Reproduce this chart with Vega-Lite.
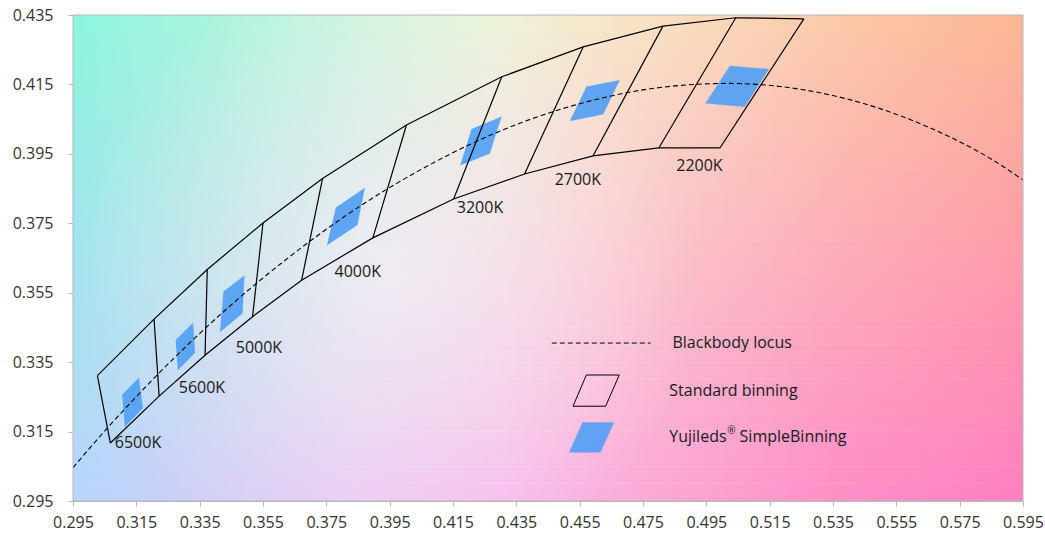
{
  "$schema": "https://vega.github.io/schema/vega-lite/v6.json",
  "width": 950,
  "height": 486,
  "autosize": {"type": "none"},
  "padding": {"left": 73, "top": 15, "right": 22, "bottom": 39},
  "background": "white",
  "datasets": {
    "frame": [{"x": 0.295, "x2": 0.595, "y": 0.295, "y2": 0.435}],
    "strips": [
      {"x": 0.295, "x2": 0.595, "y": 0.295, "y2": 0.300},
      {"x": 0.295, "x2": 0.595, "y": 0.300, "y2": 0.305},
      {"x": 0.295, "x2": 0.595, "y": 0.305, "y2": 0.310},
      {"x": 0.295, "x2": 0.595, "y": 0.310, "y2": 0.315},
      {"x": 0.295, "x2": 0.595, "y": 0.315, "y2": 0.320},
      {"x": 0.295, "x2": 0.595, "y": 0.320, "y2": 0.325},
      {"x": 0.295, "x2": 0.595, "y": 0.325, "y2": 0.330},
      {"x": 0.295, "x2": 0.595, "y": 0.330, "y2": 0.335},
      {"x": 0.295, "x2": 0.595, "y": 0.335, "y2": 0.340},
      {"x": 0.295, "x2": 0.595, "y": 0.340, "y2": 0.345},
      {"x": 0.295, "x2": 0.595, "y": 0.345, "y2": 0.350},
      {"x": 0.295, "x2": 0.595, "y": 0.350, "y2": 0.355},
      {"x": 0.295, "x2": 0.595, "y": 0.355, "y2": 0.360},
      {"x": 0.295, "x2": 0.595, "y": 0.360, "y2": 0.365},
      {"x": 0.295, "x2": 0.595, "y": 0.365, "y2": 0.370},
      {"x": 0.295, "x2": 0.595, "y": 0.370, "y2": 0.375},
      {"x": 0.295, "x2": 0.595, "y": 0.375, "y2": 0.380},
      {"x": 0.295, "x2": 0.595, "y": 0.380, "y2": 0.385},
      {"x": 0.295, "x2": 0.595, "y": 0.385, "y2": 0.390},
      {"x": 0.295, "x2": 0.595, "y": 0.390, "y2": 0.395},
      {"x": 0.295, "x2": 0.595, "y": 0.395, "y2": 0.400},
      {"x": 0.295, "x2": 0.595, "y": 0.400, "y2": 0.405},
      {"x": 0.295, "x2": 0.595, "y": 0.405, "y2": 0.410},
      {"x": 0.295, "x2": 0.595, "y": 0.410, "y2": 0.415},
      {"x": 0.295, "x2": 0.595, "y": 0.415, "y2": 0.420},
      {"x": 0.295, "x2": 0.595, "y": 0.420, "y2": 0.425},
      {"x": 0.295, "x2": 0.595, "y": 0.425, "y2": 0.430},
      {"x": 0.295, "x2": 0.595, "y": 0.430, "y2": 0.435}
    ],
    "simple": [
      {"q": "6500K", "i": 0, "x": 0.3105, "y": 0.3255},
      {"q": "6500K", "i": 1, "x": 0.3158, "y": 0.3305},
      {"q": "6500K", "i": 2, "x": 0.3170, "y": 0.3217},
      {"q": "6500K", "i": 3, "x": 0.3114, "y": 0.3164},
      {"q": "5600K", "i": 0, "x": 0.3274, "y": 0.3413},
      {"q": "5600K", "i": 1, "x": 0.3329, "y": 0.3463},
      {"q": "5600K", "i": 2, "x": 0.3335, "y": 0.3377},
      {"q": "5600K", "i": 3, "x": 0.3281, "y": 0.3327},
      {"q": "5000K", "i": 0, "x": 0.3425, "y": 0.3553},
      {"q": "5000K", "i": 1, "x": 0.3491, "y": 0.3599},
      {"q": "5000K", "i": 2, "x": 0.3485, "y": 0.3490},
      {"q": "5000K", "i": 3, "x": 0.3414, "y": 0.3437},
      {"q": "4000K", "i": 0, "x": 0.3780, "y": 0.3795},
      {"q": "4000K", "i": 1, "x": 0.3871, "y": 0.3852},
      {"q": "4000K", "i": 2, "x": 0.3848, "y": 0.3745},
      {"q": "4000K", "i": 3, "x": 0.3752, "y": 0.3687},
      {"q": "3200K", "i": 0, "x": 0.4208, "y": 0.4021},
      {"q": "3200K", "i": 1, "x": 0.4303, "y": 0.4057},
      {"q": "3200K", "i": 2, "x": 0.4266, "y": 0.3951},
      {"q": "3200K", "i": 3, "x": 0.4173, "y": 0.3917},
      {"q": "2700K", "i": 0, "x": 0.4571, "y": 0.4143},
      {"q": "2700K", "i": 1, "x": 0.4676, "y": 0.4162},
      {"q": "2700K", "i": 2, "x": 0.4624, "y": 0.4064},
      {"q": "2700K", "i": 3, "x": 0.4519, "y": 0.4045},
      {"q": "2200K", "i": 0, "x": 0.5024, "y": 0.4203},
      {"q": "2200K", "i": 1, "x": 0.5147, "y": 0.4194},
      {"q": "2200K", "i": 2, "x": 0.5071, "y": 0.4086},
      {"q": "2200K", "i": 3, "x": 0.4947, "y": 0.4096},
      {"q": "key", "i": 0, "x": 0.4517, "y": 0.3090},
      {"q": "key", "i": 1, "x": 0.4559, "y": 0.3176},
      {"q": "key", "i": 2, "x": 0.4658, "y": 0.3176},
      {"q": "key", "i": 3, "x": 0.4615, "y": 0.3090}
    ],
    "band": [
      {"edge": "top", "i": 0, "x": 0.3027, "y": 0.3311},
      {"edge": "top", "i": 1, "x": 0.3206, "y": 0.3474},
      {"edge": "top", "i": 2, "x": 0.3374, "y": 0.3617},
      {"edge": "top", "i": 3, "x": 0.3550, "y": 0.3751},
      {"edge": "top", "i": 4, "x": 0.3738, "y": 0.3879},
      {"edge": "top", "i": 5, "x": 0.4003, "y": 0.4033},
      {"edge": "top", "i": 6, "x": 0.4304, "y": 0.4172},
      {"edge": "top", "i": 7, "x": 0.4561, "y": 0.4258},
      {"edge": "top", "i": 8, "x": 0.4813, "y": 0.4318},
      {"edge": "top", "i": 9, "x": 0.5043, "y": 0.4342},
      {"edge": "top", "i": 10, "x": 0.5258, "y": 0.4339},
      {"edge": "bottom", "i": 0, "x": 0.3068, "y": 0.3117},
      {"edge": "bottom", "i": 1, "x": 0.3222, "y": 0.3252},
      {"edge": "bottom", "i": 2, "x": 0.3367, "y": 0.3370},
      {"edge": "bottom", "i": 3, "x": 0.3517, "y": 0.3481},
      {"edge": "bottom", "i": 4, "x": 0.3672, "y": 0.3586},
      {"edge": "bottom", "i": 5, "x": 0.3897, "y": 0.3708},
      {"edge": "bottom", "i": 6, "x": 0.4152, "y": 0.3820},
      {"edge": "bottom", "i": 7, "x": 0.4376, "y": 0.3892},
      {"edge": "bottom", "i": 8, "x": 0.4592, "y": 0.3944},
      {"edge": "bottom", "i": 9, "x": 0.4800, "y": 0.3967},
      {"edge": "bottom", "i": 10, "x": 0.4993, "y": 0.3967}
    ],
    "dividers": [
      {"x": 0.3027, "y": 0.3311, "x2": 0.3068, "y2": 0.3117},
      {"x": 0.3206, "y": 0.3474, "x2": 0.3222, "y2": 0.3252},
      {"x": 0.3374, "y": 0.3617, "x2": 0.3367, "y2": 0.3370},
      {"x": 0.3550, "y": 0.3751, "x2": 0.3517, "y2": 0.3481},
      {"x": 0.3738, "y": 0.3879, "x2": 0.3672, "y2": 0.3586},
      {"x": 0.4003, "y": 0.4033, "x2": 0.3897, "y2": 0.3708},
      {"x": 0.4304, "y": 0.4172, "x2": 0.4152, "y2": 0.3820},
      {"x": 0.4561, "y": 0.4258, "x2": 0.4376, "y2": 0.3892},
      {"x": 0.4813, "y": 0.4318, "x2": 0.4592, "y2": 0.3944},
      {"x": 0.5043, "y": 0.4342, "x2": 0.4800, "y2": 0.3967},
      {"x": 0.5258, "y": 0.4339, "x2": 0.4993, "y2": 0.3967}
    ],
    "locus": [
      {"x": 0.2950, "y": 0.3046},
      {"x": 0.3064, "y": 0.3166},
      {"x": 0.3135, "y": 0.3236},
      {"x": 0.3221, "y": 0.3318},
      {"x": 0.3325, "y": 0.3411},
      {"x": 0.3451, "y": 0.3516},
      {"x": 0.3608, "y": 0.3635},
      {"x": 0.3805, "y": 0.3768},
      {"x": 0.4053, "y": 0.3907},
      {"x": 0.4369, "y": 0.4041},
      {"x": 0.4599, "y": 0.4106},
      {"x": 0.4770, "y": 0.4137},
      {"x": 0.5018, "y": 0.4153},
      {"x": 0.5267, "y": 0.4133},
      {"x": 0.5496, "y": 0.4081},
      {"x": 0.5646, "y": 0.4029},
      {"x": 0.5857, "y": 0.3931},
      {"x": 0.5950, "y": 0.3875}
    ],
    "keyOutline": [
      {"i": 0, "x": 0.4529, "y": 0.3223},
      {"i": 1, "x": 0.4571, "y": 0.3313},
      {"i": 2, "x": 0.4675, "y": 0.3313},
      {"i": 3, "x": 0.4632, "y": 0.3223},
      {"i": 4, "x": 0.4529, "y": 0.3223}
    ],
    "keyLine": [{"x": 0.4462, "x2": 0.4774, "y": 0.3405}],
    "labels": [
      {"label": "6500K", "x": 0.3082, "y": 0.3117},
      {"label": "5600K", "x": 0.3284, "y": 0.3276},
      {"label": "5000K", "x": 0.3464, "y": 0.3391},
      {"label": "4000K", "x": 0.3776, "y": 0.3610},
      {"label": "3200K", "x": 0.4162, "y": 0.3793},
      {"label": "2700K", "x": 0.4471, "y": 0.3875},
      {"label": "2200K", "x": 0.4855, "y": 0.3915},
      {"label": "Blackbody locus", "x": 0.4843, "y": 0.3406},
      {"label": "Standard binning", "x": 0.4833, "y": 0.3267},
      {"label": "Yujileds", "x": 0.4833, "y": 0.3135},
      {"label": "SimpleBinning", "x": 0.5055, "y": 0.3135}
    ],
    "sup": [{"label": "®", "x": 0.5016, "y": 0.3135}]
  },
  "encoding": {
    "x": {
      "field": "x",
      "type": "quantitative",
      "scale": {"domain": [0.295, 0.595], "nice": false, "zero": false},
      "axis": {
        "title": null,
        "values": [0.295, 0.315, 0.335, 0.355, 0.375, 0.395, 0.415, 0.435, 0.455, 0.475, 0.495, 0.515, 0.535, 0.555, 0.575, 0.595],
        "format": ".3f",
        "labelFlush": false,
        "labelPadding": 8
      }
    },
    "y": {
      "field": "y",
      "type": "quantitative",
      "scale": {"domain": [0.295, 0.435], "nice": false, "zero": false},
      "axis": {
        "title": null,
        "values": [0.295, 0.315, 0.335, 0.355, 0.375, 0.395, 0.415, 0.435],
        "format": ".3f",
        "labelFlush": false,
        "labelPadding": 15
      }
    }
  },
  "layer": [
    {
      "data": {"name": "frame"},
      "mark": {
        "type": "rect",
        "fill": {
          "gradient": "linear", "x1": 0, "y1": 0, "x2": 1, "y2": 0,
          "stops": [
            {"offset": 0, "color": "#8cf6de"},
            {"offset": 0.15, "color": "#a9f5dc"},
            {"offset": 0.3, "color": "#cef5df"},
            {"offset": 0.45, "color": "#ecf3d6"},
            {"offset": 0.55, "color": "#f7e9ca"},
            {"offset": 0.7, "color": "#fad7b7"},
            {"offset": 0.85, "color": "#fcc6a2"},
            {"offset": 1, "color": "#fcb893"}
          ]
        }
      },
      "encoding": {"x2": {"field": "x2"}, "y2": {"field": "y2"}}
    },
    {
      "data": {"name": "strips"},
      "mark": {
        "type": "rect",
        "fill": {
          "gradient": "linear", "x1": 0, "y1": 0, "x2": 1, "y2": 0,
          "stops": [
            {"offset": 0, "color": "#b8d6fc"},
            {"offset": 0.15, "color": "#d3cdf6"},
            {"offset": 0.3, "color": "#eac8f2"},
            {"offset": 0.45, "color": "#f6bcec"},
            {"offset": 0.6, "color": "#fcaad8"},
            {"offset": 0.8, "color": "#fe90c8"},
            {"offset": 1, "color": "#ff80c0"}
          ]
        }
      },
      "encoding": {
        "x2": {"field": "x2"},
        "y2": {"field": "y2"},
        "opacity": {
          "field": "y",
          "type": "quantitative",
          "scale": {"domain": [0.295, 0.435], "range": [1, 0]},
          "legend": null
        }
      }
    },
    {
      "data": {"name": "frame"},
      "mark": {
        "type": "rect",
        "fill": {
          "gradient": "radial", "x1": 0.33, "y1": 0.52, "r1": 0, "x2": 0.33, "y2": 0.52, "r2": 0.33,
          "stops": [
            {"offset": 0, "color": "rgba(255,255,255,0.45)"},
            {"offset": 1, "color": "rgba(255,255,255,0)"}
          ]
        }
      },
      "encoding": {"x2": {"field": "x2"}, "y2": {"field": "y2"}}
    },
    {
      "data": {"name": "simple"},
      "mark": {"type": "line", "fill": "#4f9ef5", "fillOpacity": 0.9, "stroke": "#4f9ef5", "strokeOpacity": 0.5, "strokeWidth": 0.5},
      "encoding": {"detail": {"field": "q"}, "order": {"field": "i", "type": "quantitative"}}
    },
    {
      "data": {"name": "band"},
      "mark": {"type": "line", "stroke": "#000000", "strokeWidth": 1.2},
      "encoding": {"detail": {"field": "edge"}, "order": {"field": "i", "type": "quantitative"}}
    },
    {
      "data": {"name": "dividers"},
      "mark": {"type": "rule", "stroke": "#000000", "strokeWidth": 1.2},
      "encoding": {"x2": {"field": "x2"}, "y2": {"field": "y2"}}
    },
    {
      "data": {"name": "locus"},
      "mark": {"type": "line", "stroke": "#000000", "strokeWidth": 1.1, "strokeDash": [5, 3], "interpolate": "monotone", "clip": true},
      "encoding": {"order": {"field": "x", "type": "quantitative"}}
    },
    {
      "data": {"name": "keyOutline"},
      "mark": {"type": "line", "stroke": "#000000", "strokeWidth": 1},
      "encoding": {"order": {"field": "i", "type": "quantitative"}}
    },
    {
      "data": {"name": "keyLine"},
      "mark": {"type": "rule", "stroke": "#000000", "strokeWidth": 1, "strokeDash": [5, 3]},
      "encoding": {"x2": {"field": "x2"}}
    },
    {
      "data": {"name": "labels"},
      "mark": {"type": "text", "align": "left", "baseline": "middle", "font": "Open Sans", "fontSize": 16, "color": "#1a1a1a"},
      "encoding": {"text": {"field": "label", "type": "nominal"}}
    },
    {
      "data": {"name": "sup"},
      "mark": {"type": "text", "align": "left", "baseline": "middle", "font": "Open Sans", "fontSize": 10, "dy": -6, "color": "#1a1a1a"},
      "encoding": {"text": {"field": "label", "type": "nominal"}}
    },
    {
      "data": {"name": "frame"},
      "mark": {"type": "rect", "filled": false, "stroke": "#b8b8b8", "strokeWidth": 1},
      "encoding": {"x2": {"field": "x2"}, "y2": {"field": "y2"}}
    }
  ],
  "config": {
    "font": "Open Sans",
    "view": {"stroke": null},
    "axis": {
      "grid": false,
      "zindex": 1,
      "domainColor": "#b8b8b8",
      "tickColor": "#b8b8b8",
      "tickSize": 5,
      "labelFont": "Open Sans",
      "labelFontSize": 16,
      "labelColor": "#333333"
    }
  }
}
